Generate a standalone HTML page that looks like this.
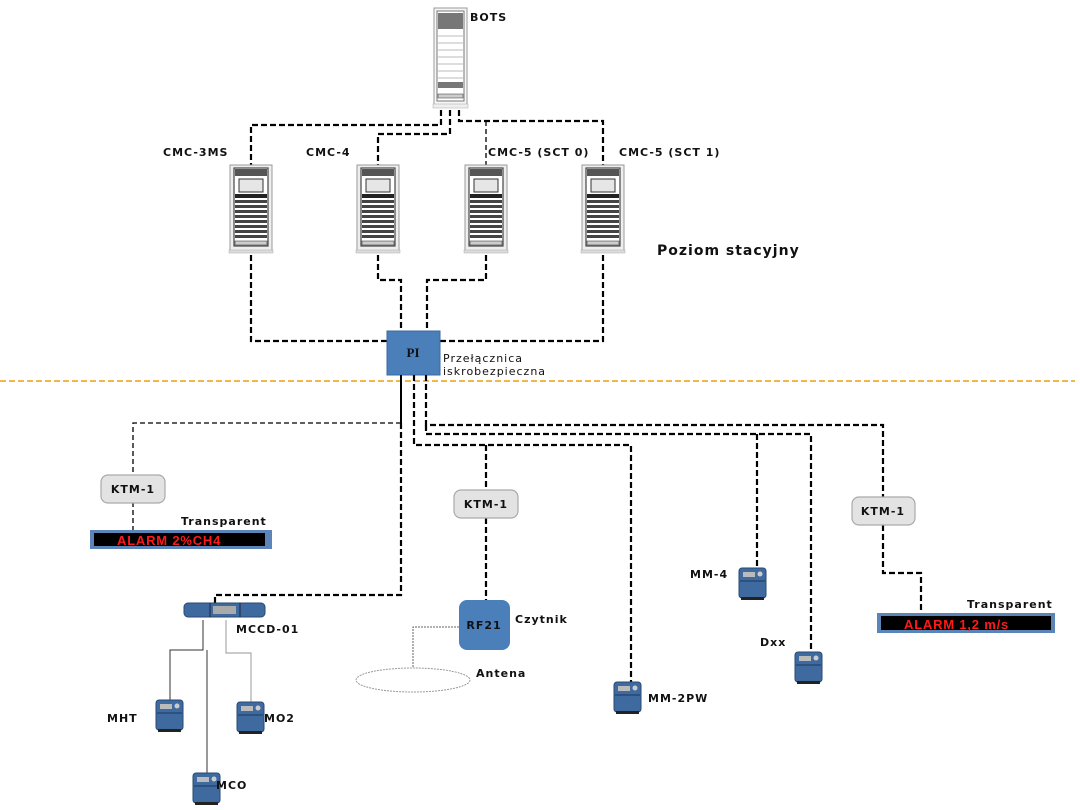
<!DOCTYPE html>
<html><head><meta charset="utf-8"><style>
html,body{margin:0;padding:0;background:#fff;}
svg{display:block;font-family:"DejaVu Sans","Liberation Sans",sans-serif;}
.l{font-size:11px;fill:#111;letter-spacing:1px;}
</style></head><body>
<svg width="1080" height="810" viewBox="0 0 1080 810" xmlns="http://www.w3.org/2000/svg">
<defs>
<g id="rack">
  <rect x="0" y="0" width="42" height="87" fill="#eee" stroke="#999" stroke-width="1"/>
  <rect x="4" y="3" width="34" height="78" fill="#fff" stroke="#444" stroke-width="1.2"/>
  <rect x="5" y="4" width="32" height="7" fill="#555"/>
  <rect x="9" y="14" width="24" height="13" fill="#e6e6e6" stroke="#333"/>
  <rect x="5" y="29" width="32" height="4" fill="#222"/>
  <g fill="#444">
    <rect x="5" y="35" width="32" height="3"/><rect x="5" y="40" width="32" height="3"/>
    <rect x="5" y="45" width="32" height="3"/><rect x="5" y="50" width="32" height="3"/>
    <rect x="5" y="55" width="32" height="3"/><rect x="5" y="60" width="32" height="3"/>
    <rect x="5" y="65" width="32" height="3"/><rect x="5" y="70" width="32" height="3"/>
  </g>
  <rect x="5" y="76" width="32" height="4" fill="#ccc" stroke="#222" stroke-width="0.5"/>
  <rect x="-1" y="85" width="44" height="3" fill="#ddd" stroke="#aaa" stroke-width="0.5"/>
</g>
<g id="dev">
  <rect x="0" y="0" width="27" height="30" rx="3" fill="#3f6aa0" stroke="#2a4a72"/>
  <rect x="4" y="4" width="12" height="5" fill="#bbb"/>
  <circle cx="21" cy="6" r="2.5" fill="#ccc"/>
  <line x1="1" y1="13" x2="26" y2="13" stroke="#1d3557"/>
  <rect x="2" y="29" width="23" height="3" fill="#222"/>
</g>
</defs>

<!-- BOTS -->
<rect x="434" y="8" width="33" height="98" fill="#f6f6f6" stroke="#999"/>
<rect x="437" y="11" width="27" height="90" fill="#fff" stroke="#777"/>
<rect x="438" y="13" width="25" height="16" fill="#777"/>
<g stroke="#bbb"><line x1="438" y1="36" x2="463" y2="36"/><line x1="438" y1="43" x2="463" y2="43"/><line x1="438" y1="50" x2="463" y2="50"/><line x1="438" y1="57" x2="463" y2="57"/><line x1="438" y1="64" x2="463" y2="64"/><line x1="438" y1="71" x2="463" y2="71"/><line x1="438" y1="78" x2="463" y2="78"/></g>
<rect x="438" y="82" width="25" height="6" fill="#777"/>
<rect x="438" y="94" width="25" height="4" fill="#ccc" stroke="#333" stroke-width="0.5"/>
<rect x="433" y="104" width="35" height="4" fill="#eee" stroke="#aaa" stroke-width="0.5"/>
<text x="470" y="21" class="l" font-weight="bold">BOTS</text>

<!-- Upper connections -->
<g fill="none" stroke="#000" stroke-width="2.2" stroke-dasharray="6,3">
  <polyline points="441,110 441,125 251,125 251,165"/>
  <polyline points="450,110 450,134 378,134 378,165"/>
  <polyline points="459,110 459,121 603,121 603,165"/>
  <polyline points="251,255 251,341 387,341"/>
  <polyline points="378,255 378,280 401,280 401,331"/>
  <polyline points="486,255 486,280 427,280 427,331"/>
  <polyline points="603,255 603,341 440,341"/>
</g>
<line x1="486" y1="121" x2="486" y2="165" stroke="#000" stroke-width="1.3" stroke-dasharray="5,3"/>

<use href="#rack" x="230" y="165"/>
<use href="#rack" x="357" y="165"/>
<use href="#rack" x="465" y="165"/>
<use href="#rack" x="582" y="165"/>
<text x="163" y="156" class="l" font-weight="bold">CMC-3MS</text>
<text x="306" y="156" class="l" font-weight="bold">CMC-4</text>
<text x="488" y="156" class="l" font-weight="bold">CMC-5 (SCT 0)</text>
<text x="619" y="156" class="l" font-weight="bold">CMC-5 (SCT 1)</text>
<text x="657" y="255" font-size="14" font-weight="bold" fill="#111" letter-spacing="1">Poziom stacyjny</text>

<!-- PI -->
<rect x="387" y="331" width="53" height="44" fill="#4a7fba" stroke="#3a6aa0"/>
<text x="413" y="357" text-anchor="middle" font-family="Liberation Serif,serif" font-weight="bold" font-size="13" fill="#111">PI</text>
<text x="443" y="362" class="l" font-size="12">Przełącznica</text>
<text x="443" y="375" class="l" font-size="12">iskrobezpieczna</text>

<line x1="0" y1="381" x2="1075" y2="381" stroke="#f0b84a" stroke-width="2" stroke-dasharray="6,3"/>

<!-- Lower connections -->
<line x1="401" y1="375" x2="401" y2="423" stroke="#000" stroke-width="2"/>
<g fill="none" stroke="#000" stroke-width="1.3" stroke-dasharray="5,3">
  <polyline points="401,423 133,423 133,475"/>
  <line x1="133" y1="502" x2="133" y2="530"/>
</g>
<g fill="none" stroke="#000" stroke-width="2.2" stroke-dasharray="6,3">
  <polyline points="401,423 401,595 215,595 215,603"/>
  <polyline points="426,375 426,425 883,425 883,497"/>
  <polyline points="426,425 426,434 811,434 811,652"/>
  <line x1="757" y1="434" x2="757" y2="568"/>
  <polyline points="414,375 414,445 631,445 631,682"/>
  <polyline points="486,445 486,490"/>
  <line x1="486" y1="518" x2="486" y2="600"/>
  <polyline points="883,525 883,573 921,573 921,613"/>
</g>

<!-- KTM boxes -->
<g fill="#e3e3e3" stroke="#aaa" stroke-width="1.2">
  <rect x="101" y="475" width="64" height="28" rx="7"/>
  <rect x="454" y="490" width="64" height="28" rx="7"/>
  <rect x="852" y="497" width="63" height="28" rx="7"/>
</g>
<g class="l" font-weight="bold" text-anchor="middle">
  <text x="133" y="493">KTM-1</text>
  <text x="486" y="508">KTM-1</text>
  <text x="883" y="515">KTM-1</text>
</g>

<!-- Transparents -->
<rect x="90" y="530" width="182" height="19" fill="#5b85b8"/>
<rect x="94" y="533" width="171" height="13" fill="#000"/>
<text x="117" y="545" font-size="13" font-weight="bold" fill="#ff1a1a" font-family="Liberation Sans,sans-serif" letter-spacing="0.8">ALARM 2%CH4</text>
<text x="181" y="525" class="l" font-weight="bold" font-size="10">Transparent</text>

<rect x="877" y="613" width="178" height="20" fill="#5b85b8"/>
<rect x="881" y="616" width="170" height="14" fill="#000"/>
<text x="904" y="629" font-size="13" font-weight="bold" fill="#ff1a1a" font-family="Liberation Sans,sans-serif" letter-spacing="0.8">ALARM 1,2 m/s</text>
<text x="967" y="608" class="l" font-weight="bold" font-size="10">Transparent</text>

<!-- RF21 -->
<rect x="459" y="600" width="51" height="50" rx="8" fill="#4a7fba"/>
<text x="484" y="629" text-anchor="middle" class="l" font-weight="bold" fill="#1a2a44">RF21</text>
<text x="515" y="623" class="l" font-weight="bold">Czytnik</text>
<polyline points="459,627 413,627 413,668" fill="none" stroke="#666" stroke-width="1" stroke-dasharray="2,1"/>
<ellipse cx="413" cy="680" rx="57" ry="12" fill="none" stroke="#999" stroke-width="1" stroke-dasharray="2,1"/>
<text x="476" y="677" class="l" font-weight="bold">Antena</text>

<!-- MCCD -->
<rect x="184" y="603" width="81" height="14" rx="4" fill="#3f6aa0" stroke="#2a4a72"/>
<rect x="213" y="606" width="23" height="8" fill="#aaa"/>
<line x1="210" y1="603" x2="210" y2="617" stroke="#223"/>
<line x1="240" y1="603" x2="240" y2="617" stroke="#223"/>
<text x="236" y="633" class="l" font-weight="bold">MCCD-01</text>
<g fill="none" stroke="#333" stroke-width="1">
  <polyline points="203,620 203,650 170,650 170,700"/>
  <line x1="207" y1="650" x2="207" y2="775"/>
</g>
<polyline points="226,620 226,653 251,653 251,702" fill="none" stroke="#aaa" stroke-width="1.2"/>

<!-- Devices -->
<use href="#dev" x="156" y="700"/>
<use href="#dev" x="237" y="702"/>
<use href="#dev" x="193" y="773"/>
<use href="#dev" x="739" y="568"/>
<use href="#dev" x="795" y="652"/>
<use href="#dev" x="614" y="682"/>
<g class="l" font-weight="bold">
  <text x="107" y="722">MHT</text>
  <text x="264" y="722">MO2</text>
  <text x="216" y="789">MCO</text>
  <text x="690" y="578">MM-4</text>
  <text x="760" y="646">Dxx</text>
  <text x="648" y="702">MM-2PW</text>
</g>
</svg>
</body></html>
